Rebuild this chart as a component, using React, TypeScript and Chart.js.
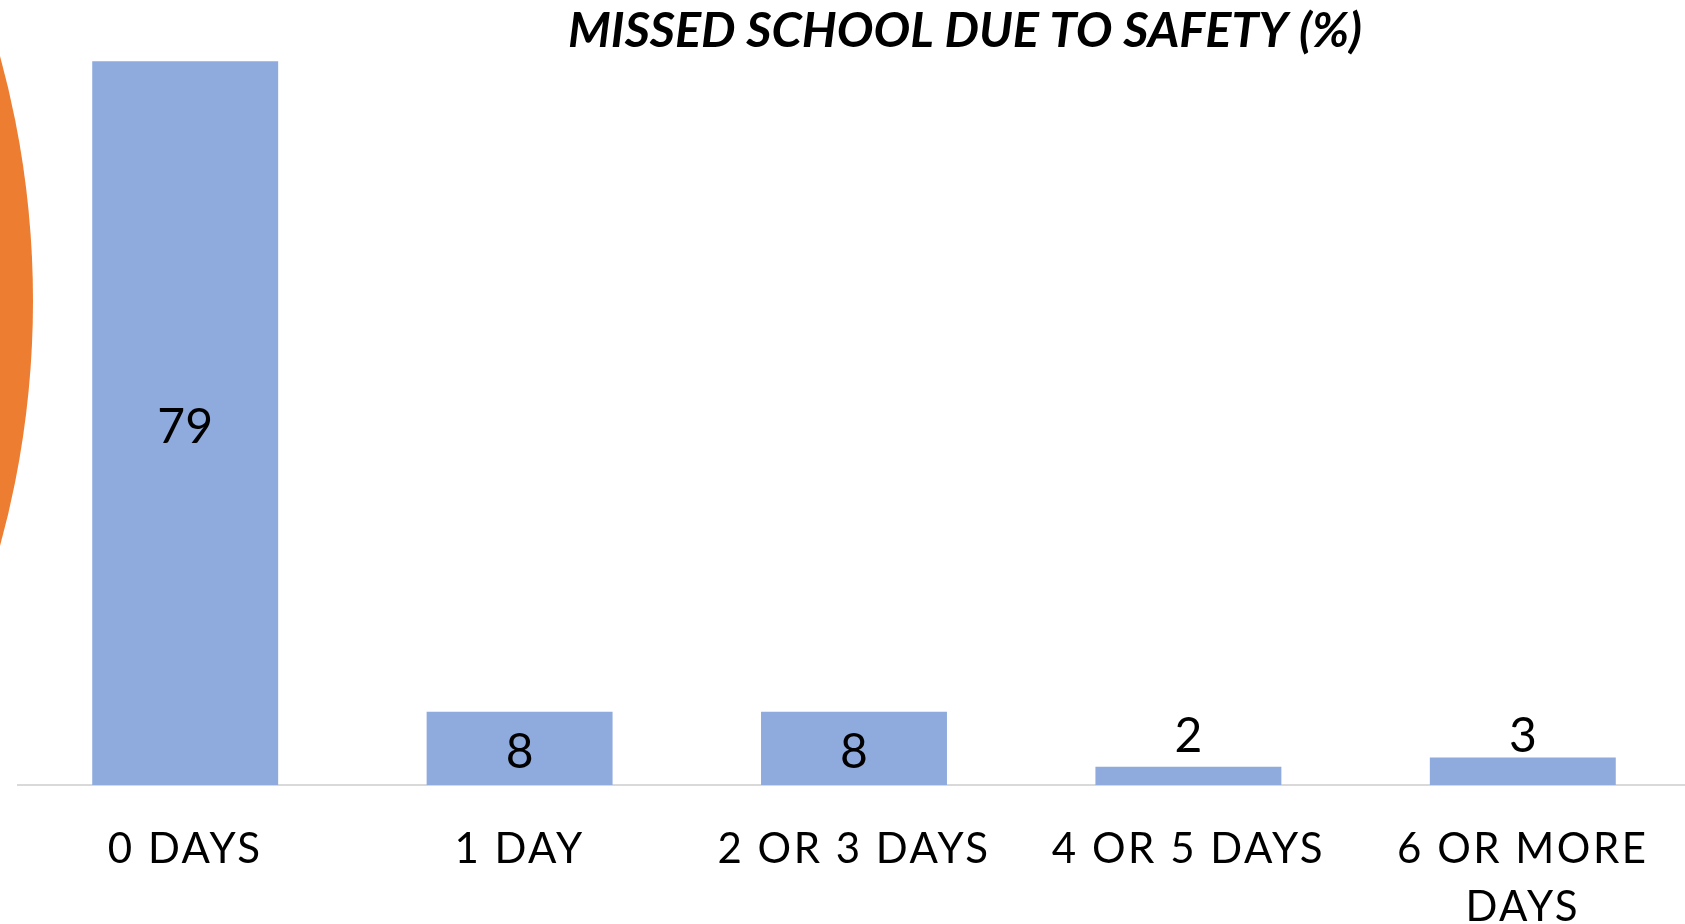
import React, { useEffect, useRef } from "react";
import { Chart, registerables } from "chart.js";

Chart.register(...registerables);

const categories: (string | string[])[] = ["0 DAYS", "1 DAY", "2 OR 3 DAYS", "4 OR 5 DAYS", ["6 OR MORE", "DAYS"]];
const missedPct: number[] = [79, 8, 8, 2, 3];
const titleText = "MISSED SCHOOL DUE TO SAFETY (%)";

const BAR_COLOR = "#8FAADC";
const ORANGE = "#ED7D31";

const decorPlugin = {
  id: "decor",
  beforeDraw(chart: any) {
    const ctx = chart.ctx;
    ctx.save();
    ctx.fillStyle = ORANGE;
    ctx.beginPath();
    ctx.arc(-893, 301, 926, 0, Math.PI * 2);
    ctx.fill();
    ctx.restore();
    (ctx as any).letterSpacing = "2.5px";
  },
  afterDraw(chart: any) {
    const ctx = chart.ctx;
    (ctx as any).letterSpacing = "0px";
    ctx.save();
    ctx.font = "italic bold 47px Lato";
    ctx.fillStyle = "#000";
    ctx.textAlign = "center";
    ctx.textBaseline = "alphabetic";
    const w = ctx.measureText(titleText).width;
    const sx = 794 / w;
    ctx.translate(965, 47);
    ctx.scale(sx, 1);
    ctx.fillText(titleText, 0, 0);
    ctx.restore();
  },
};

const labelPlugin = {
  id: "barLabels",
  afterDatasetsDraw(chart: any) {
    const ctx = chart.ctx;
    const meta = chart.getDatasetMeta(0);
    const data = chart.data.datasets[0].data as number[];
    ctx.save();
    (ctx as any).letterSpacing = "0px";
    ctx.font = "48px Lato";
    ctx.fillStyle = "#000";
    ctx.textAlign = "center";
    ctx.textBaseline = "alphabetic";
    meta.data.forEach((bar: any, i: number) => {
      const h = bar.base - bar.y;
      const txt = String(data[i]);
      if (h > 55) {
        const cy = (bar.y + bar.base) / 2;
        ctx.fillText(txt, bar.x, cy + 20);
      } else {
        ctx.fillText(txt, bar.x, Math.min(bar.y - 5, bar.base - 33));
      }
    });
    ctx.restore();
    (ctx as any).letterSpacing = "2.5px";
  },
};

export default function App() {
  const ref = useRef<HTMLCanvasElement>(null);
  useEffect(() => {
    if (!ref.current) return;
    const chart = new Chart(ref.current, {
      type: "bar",
      data: {
        labels: categories,
        datasets: [
          {
            label: "Missed school due to safety (%)",
            data: missedPct,
            backgroundColor: BAR_COLOR,
            borderWidth: 0,
            categoryPercentage: 1,
            barPercentage: 0.556,
          },
        ],
      },
      options: {
        animation: false,
        responsive: false,
        devicePixelRatio: 1,
        layout: { padding: { left: 18, right: 2, top: 52, bottom: 0 } },
        plugins: {
          legend: { display: false },
          tooltip: { enabled: false },
          title: { display: false },
        },
        scales: {
          x: {
            grid: { display: false, drawTicks: false },
            border: { display: true, color: "#D9D9D9", width: 2 },
            ticks: {
              color: "#000",
              padding: 35,
              maxRotation: 0,
              autoSkip: false,
              font: { family: "Lato", size: 42, lineHeight: 58 / 42 },
            },
            afterFit(scale: any) {
              scale.height = 139;
            },
          },
          y: {
            display: false,
            min: 0,
            max: 80,
          },
        },
      },
      plugins: [decorPlugin, labelPlugin],
    });
    return () => chart.destroy();
  }, []);
  return (
    <div style={{ position: "fixed", left: 0, top: 0, width: 1685, height: 924, overflow: "hidden", background: "#fff" }}>
      <canvas ref={ref} width={1692} height={924} style={{ display: "block" }} />
    </div>
  );
}
